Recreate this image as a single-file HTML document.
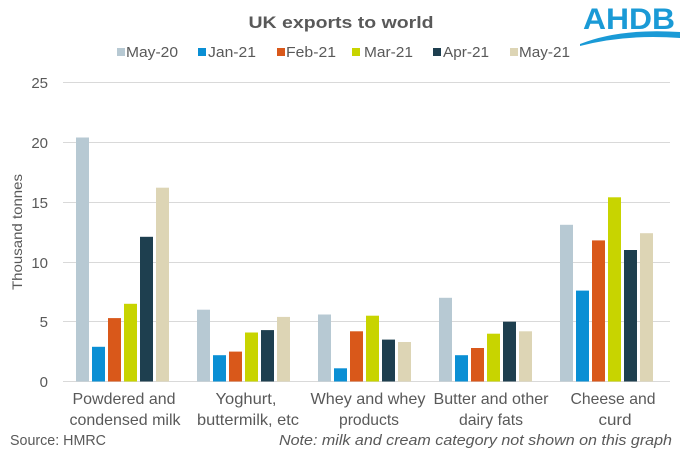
<!DOCTYPE html>
<html><head><meta charset="utf-8"><style>html,body{margin:0;padding:0;background:#fff}svg{display:block}</style></head>
<body>
<svg width="680" height="454" viewBox="0 0 680 454" xmlns="http://www.w3.org/2000/svg" font-family="Liberation Sans, sans-serif">
<rect width="680" height="454" fill="#fff"/>
<text x="341" y="28" text-anchor="middle" font-size="17" font-weight="bold" fill="#595959" textLength="185" lengthAdjust="spacingAndGlyphs">UK exports to world</text>
<text x="583" y="29" font-size="30" font-weight="bold" fill="#1a9ad6" textLength="92" lengthAdjust="spacingAndGlyphs">AHDB</text>
<path d="M580 44 Q620 28 680 32 L680 38 Q625 34 580 46 Z" fill="#1a9ad6"/>
<g font-size="15" fill="#595959">
<rect x="117" y="48" width="8" height="8" fill="#b7c9d3"/><text x="126" y="57" textLength="52" lengthAdjust="spacingAndGlyphs">May-20</text>
<rect x="198" y="48" width="8" height="8" fill="#0a8fd4"/><text x="208" y="57" textLength="48" lengthAdjust="spacingAndGlyphs">Jan-21</text>
<rect x="277" y="48" width="8" height="8" fill="#d9581a"/><text x="286" y="57" textLength="50" lengthAdjust="spacingAndGlyphs">Feb-21</text>
<rect x="352" y="48" width="8" height="8" fill="#c8d400"/><text x="364" y="57" textLength="49" lengthAdjust="spacingAndGlyphs">Mar-21</text>
<rect x="433" y="48" width="8" height="8" fill="#1e3f4f"/><text x="443" y="57" textLength="46" lengthAdjust="spacingAndGlyphs">Apr-21</text>
<rect x="510" y="48" width="8" height="8" fill="#ddd5b5"/><text x="519" y="57" textLength="51" lengthAdjust="spacingAndGlyphs">May-21</text>
</g>
<g stroke="#d9d9d9" stroke-width="1">
<line x1="63" x2="670" y1="82.5" y2="82.5"/>
<line x1="63" x2="670" y1="142.5" y2="142.5"/>
<line x1="63" x2="670" y1="202.5" y2="202.5"/>
<line x1="63" x2="670" y1="262.5" y2="262.5"/>
<line x1="63" x2="670" y1="321.5" y2="321.5"/>
<line x1="63" x2="670" y1="381.5" y2="381.5"/>
</g>
<g font-size="15" fill="#595959" text-anchor="end">
<text x="48" y="88">25</text><text x="48" y="148">20</text><text x="48" y="208">15</text>
<text x="48" y="268">10</text><text x="48" y="327">5</text><text x="48" y="387">0</text>
</g>
<text transform="translate(22 232) rotate(-90)" font-size="14" fill="#595959" text-anchor="middle" textLength="116" lengthAdjust="spacingAndGlyphs">Thousand tonnes</text>
<g font-size="16" fill="#595959" text-anchor="middle">
<text x="124" y="404" textLength="103" lengthAdjust="spacingAndGlyphs">Powdered and</text>
<text x="125" y="425" textLength="111" lengthAdjust="spacingAndGlyphs">condensed milk</text>
<text x="246" y="404" textLength="61" lengthAdjust="spacingAndGlyphs">Yoghurt,</text>
<text x="248" y="425" textLength="102" lengthAdjust="spacingAndGlyphs">buttermilk, etc</text>
<text x="368" y="404" textLength="115" lengthAdjust="spacingAndGlyphs">Whey and whey</text>
<text x="369" y="425" textLength="60" lengthAdjust="spacingAndGlyphs">products</text>
<text x="491" y="404" textLength="115" lengthAdjust="spacingAndGlyphs">Butter and other</text>
<text x="491" y="425" textLength="64" lengthAdjust="spacingAndGlyphs">dairy fats</text>
<text x="613" y="404" textLength="85" lengthAdjust="spacingAndGlyphs">Cheese and</text>
<text x="615" y="425" textLength="33" lengthAdjust="spacingAndGlyphs">curd</text>
</g>
<text x="10" y="445" font-size="15" fill="#595959" textLength="96" lengthAdjust="spacingAndGlyphs">Source: HMRC</text>
<text x="672" y="445" font-size="15" font-style="italic" fill="#595959" text-anchor="end" textLength="393" lengthAdjust="spacingAndGlyphs">Note: milk and cream category not shown on this graph</text>
<g>
<rect x="76" y="137.5" width="13" height="244" fill="#b7c9d3"/>
<rect x="92" y="346.8" width="13" height="34.7" fill="#0a8fd4"/>
<rect x="108" y="318.1" width="13" height="63.4" fill="#d9581a"/>
<rect x="124" y="303.8" width="13" height="77.7" fill="#c8d400"/>
<rect x="140" y="236.8" width="13" height="144.7" fill="#1e3f4f"/>
<rect x="156" y="187.7" width="13" height="193.8" fill="#ddd5b5"/>

<rect x="197" y="309.7" width="13" height="71.8" fill="#b7c9d3"/>
<rect x="213" y="355.2" width="13" height="26.3" fill="#0a8fd4"/>
<rect x="229" y="351.6" width="13" height="29.9" fill="#d9581a"/>
<rect x="245" y="332.5" width="13" height="49" fill="#c8d400"/>
<rect x="261" y="330.1" width="13" height="51.4" fill="#1e3f4f"/>
<rect x="277" y="316.9" width="13" height="64.6" fill="#ddd5b5"/>

<rect x="318" y="314.5" width="13" height="67" fill="#b7c9d3"/>
<rect x="334" y="368.3" width="13" height="13.2" fill="#0a8fd4"/>
<rect x="350" y="331.3" width="13" height="50.2" fill="#d9581a"/>
<rect x="366" y="315.7" width="13" height="65.8" fill="#c8d400"/>
<rect x="382" y="339.6" width="13" height="41.9" fill="#1e3f4f"/>
<rect x="398" y="342" width="13" height="39.5" fill="#ddd5b5"/>

<rect x="439" y="297.8" width="13" height="83.7" fill="#b7c9d3"/>
<rect x="455" y="355.2" width="13" height="26.3" fill="#0a8fd4"/>
<rect x="471" y="348" width="13" height="33.5" fill="#d9581a"/>
<rect x="487" y="333.7" width="13" height="47.8" fill="#c8d400"/>
<rect x="503" y="321.7" width="13" height="59.8" fill="#1e3f4f"/>
<rect x="519" y="331.3" width="13" height="50.2" fill="#ddd5b5"/>

<rect x="560" y="224.8" width="13" height="156.7" fill="#b7c9d3"/>
<rect x="576" y="290.6" width="13" height="90.9" fill="#0a8fd4"/>
<rect x="592" y="240.4" width="13" height="141.1" fill="#d9581a"/>
<rect x="608" y="197.3" width="13" height="184.2" fill="#c8d400"/>
<rect x="624" y="250" width="13" height="131.5" fill="#1e3f4f"/>
<rect x="640" y="233.2" width="13" height="148.3" fill="#ddd5b5"/>
</g>
</svg>
</body></html>
